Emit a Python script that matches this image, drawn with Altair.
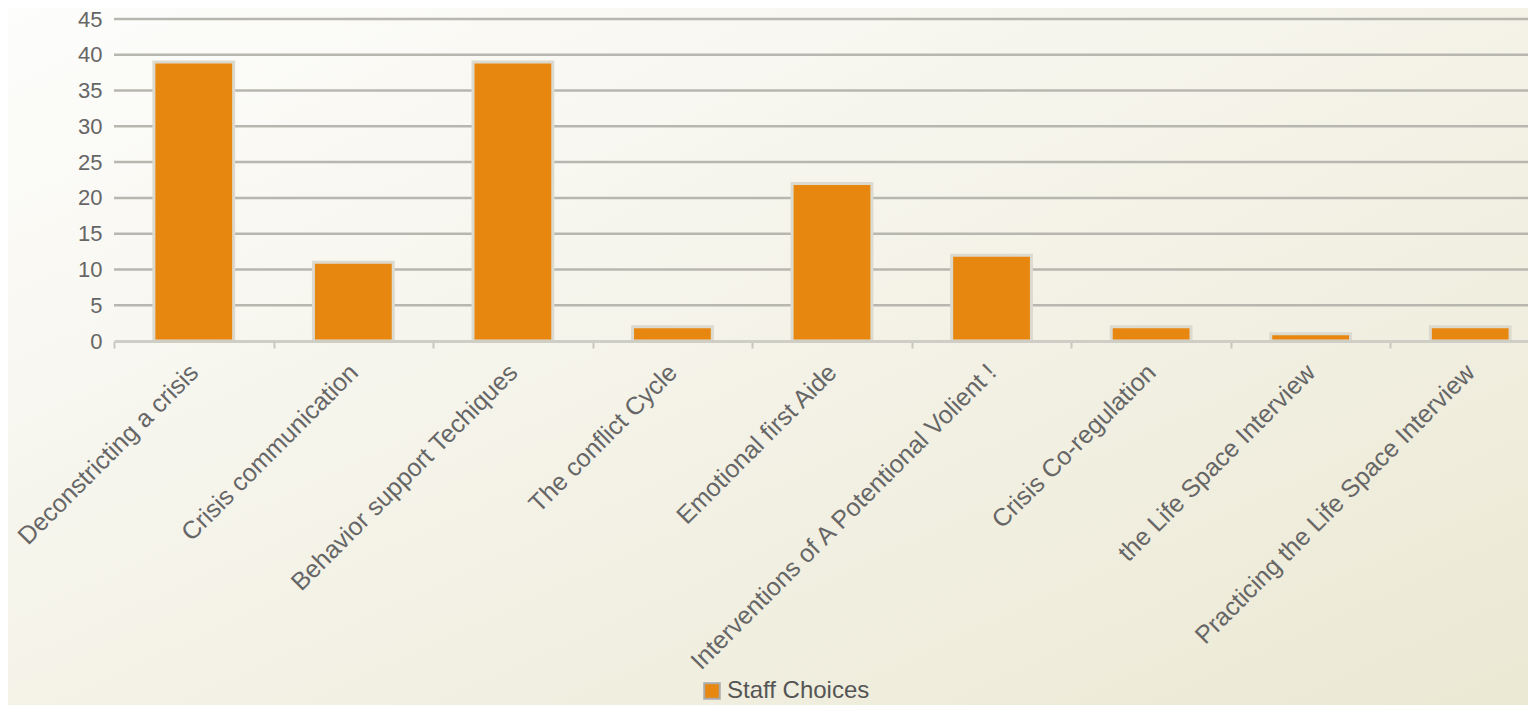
import altair as alt
import pandas as pd

categories = [
    "Deconstricting a crisis",
    "Crisis communication",
    "Behavior support Techiques",
    "The conflict Cycle",
    "Emotional first Aide",
    "Interventions of A Potentional Volient !",
    "Crisis Co-regulation",
    "the Life Space Interview",
    "Practicing the Life Space Interview",
]
values = [39, 11, 39, 2, 22, 12, 2, 1, 2]
series_name = "Staff Choices"
y_ticks = [0, 5, 10, 15, 20, 25, 30, 35, 40, 45]

df = pd.DataFrame({"category": categories, "value": values, "series": [series_name] * len(categories)})
grid_df = pd.DataFrame({"tick": y_ticks})

W = 1414
H = 322
FONT = "Liberation Sans"

y_scale = alt.Scale(domain=[0, 45], nice=False)
x_scale = alt.Scale(domain=categories, range=[0, 1436], paddingInner=0, paddingOuter=0)

y_axis = alt.Axis(values=y_ticks, grid=False, domain=False, ticks=False, labelPadding=12,
                  labelFontSize=22, labelColor="#666666", labelFont=FONT, title=None, zindex=1)

bg = alt.Chart(grid_df).mark_rect(
    color=alt.Gradient(
        gradient="linear",
        stops=[alt.GradientStop(color="#fdfdfc", offset=0), alt.GradientStop(color="#ebe8d3", offset=1)],
        x1=0, y1=0, x2=1, y2=1,
    )
).encode(x=alt.value(-106), x2=alt.value(W + 10), y=alt.value(-11), y2=alt.value(H + 370))

grid = alt.Chart(grid_df).transform_filter(alt.datum.tick > 0).mark_rule(
    color="#b8b7af", strokeWidth=2.5
).encode(
    y=alt.Y("tick:Q", scale=y_scale, axis=y_axis),
    x=alt.value(0), x2=alt.value(W + 10),
)

bars = alt.Chart(df).mark_bar(stroke="#dcd9cf", strokeWidth=3, width=alt.RelativeBandSize(0.5)).encode(
    x=alt.X("category:N", sort=categories, scale=x_scale,
            axis=alt.Axis(labelAngle=-45, labelAlign="right", labelBaseline="middle", labelFontSize=25,
                          labelColor="#666666", labelFont=FONT, tickBand="extent", tickColor="#c8c7bf",
                          tickSize=7, tickWidth=2, domainColor="#cfcec6", domainWidth=3, labelPadding=20,
                          title=None, zindex=1, labelLimit=0, labelOverlap=False)),
    y=alt.Y("value:Q", scale=y_scale, axis=y_axis),
    color=alt.Color("series:N", scale=alt.Scale(range=["#e8870f"]),
                    legend=alt.Legend(orient="none", legendX=586, legendY=660, title=None,
                                      symbolType="square", symbolSize=240, symbolStrokeColor="#aaaaaa",
                                      symbolStrokeWidth=2, labelFontSize=24, labelColor="#555555",
                                      labelFont=FONT, labelOffset=3)),
)

chart = alt.layer(bg, grid, bars).properties(
    width=W, height=H,
    autosize=alt.AutoSizeParams(type="none"),
    padding={"left": 106, "top": 11, "right": 0, "bottom": 364},
).configure_view(stroke=None).configure(background="#fbfbf8")

chart.save("out.html", embed_options={"renderer": "svg", "actions": False})
